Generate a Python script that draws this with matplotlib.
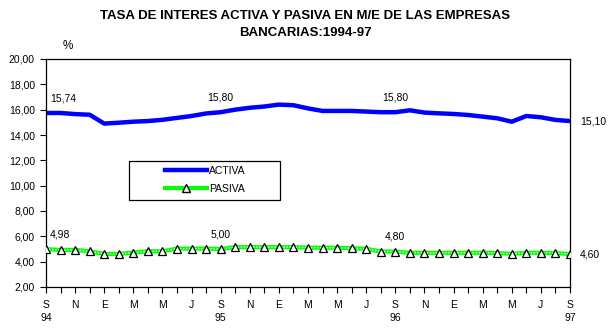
import matplotlib
matplotlib.use("Agg")
import matplotlib.pyplot as plt
from matplotlib.lines import Line2D
from matplotlib.patches import Rectangle
from matplotlib.transforms import blended_transform_factory

# monthly data, Sep 1994 - Sep 1997
months = (["S", "O", "N", "D", "E", "F", "M", "A", "M", "J", "J", "A"] * 4)[:37]
year_labels = {0: "94", 12: "95", 24: "96", 36: "97"}

activa = [15.74, 15.74, 15.65, 15.60, 14.90, 14.97, 15.05, 15.10, 15.20, 15.35,
          15.50, 15.70, 15.80, 16.00, 16.15, 16.25, 16.40, 16.35, 16.10, 15.90,
          15.90, 15.90, 15.85, 15.80, 15.80, 15.95, 15.77, 15.71, 15.66, 15.58,
          15.45, 15.32, 15.05, 15.50, 15.40, 15.19, 15.10]
pasiva = [4.98, 4.93, 4.93, 4.82, 4.61, 4.61, 4.72, 4.82, 4.82, 5.03,
          5.03, 5.03, 5.00, 5.15, 5.15, 5.15, 5.15, 5.15, 5.10, 5.10,
          5.10, 5.06, 5.01, 4.80, 4.80, 4.70, 4.70, 4.70, 4.70, 4.70,
          4.70, 4.68, 4.62, 4.70, 4.70, 4.68, 4.60]
label_idx = [0, 12, 24]

plt.rcParams["font.family"] = ["Liberation Sans", "DejaVu Sans"]

fig = plt.figure(figsize=(6.10, 3.33), dpi=100)
ax = fig.add_axes([46 / 610, 1 - 287 / 333, 524 / 610, 228 / 333])

x = list(range(len(activa)))
ax.plot(x, activa, color="#0000ff", lw=3.2, solid_capstyle="butt")
ax.plot(x, pasiva, color="#00ff00", lw=3.0, zorder=3)
ax.plot(x, pasiva, color="white", lw=1.0, ls=(0, (1, 1.2)), zorder=4)
ax.plot(x, pasiva, ls="none", marker="^", ms=6, mfc="white", mec="black",
        mew=0.9, zorder=5)

fmt = lambda v: f"{v:.2f}".replace(".", ",")
for i in label_idx:
    off = (3, 7) if i == 0 else (0, 7)
    ha = "left" if i == 0 else "center"
    ax.annotate(fmt(activa[i]), (i, activa[i]), xytext=off, textcoords="offset points",
                ha=ha, va="bottom", fontsize=7.5)
    ax.annotate(fmt(pasiva[i]), (i, pasiva[i]), xytext=off, textcoords="offset points",
                ha=ha, va="bottom", fontsize=7.5)
ax.annotate(fmt(activa[-1]), (36, activa[-1]), xytext=(7, 0), textcoords="offset points",
            ha="left", va="center", fontsize=7.5)
ax.annotate(fmt(pasiva[-1]), (36, pasiva[-1]), xytext=(7, 0), textcoords="offset points",
            ha="left", va="center", fontsize=7.5)

ax.set_xlim(0, 36)
ax.set_ylim(2, 20)
ax.set_yticks(range(2, 21, 2))
ax.set_yticklabels([fmt(v) for v in range(2, 21, 2)], fontsize=7.5)
ax.set_xticks(x, minor=True)
major = list(range(0, 37, 2))
ax.set_xticks(major)
ax.set_xticklabels([months[i] for i in major], fontsize=7.5)
ax.tick_params(axis="x", which="both", direction="out", length=4, width=0.8, pad=5)
ax.tick_params(axis="y", direction="out", length=4, width=0.8, pad=4)
for s in ax.spines.values():
    s.set_linewidth(0.9)

# year row under the month letters
trans = blended_transform_factory(ax.transData, fig.transFigure)
for i, yr in year_labels.items():
    ax.text(i, 1 - 318 / 333, yr, transform=trans, ha="center", va="center",
            fontsize=7.5, clip_on=False)

fig.text(68 / 610, 1 - 46 / 333, "%", fontsize=8.5, ha="center", va="center")
fig.text(305 / 610, 1 - 16 / 333, "TASA DE INTERES ACTIVA Y PASIVA EN M/E DE LAS EMPRESAS",
         ha="center", va="center", fontsize=9.5, fontweight="bold")
fig.text(305 / 610, 1 - 33 / 333, "BANCARIAS:1994-97",
         ha="center", va="center", fontsize=9.5, fontweight="bold")

# legend box
fig.patches.append(Rectangle((129 / 610, 1 - 200 / 333), 151 / 610, 39 / 333,
                             transform=fig.transFigure, fill=False, ec="black", lw=0.9))
h_act = Line2D([], [], color="#0000ff", lw=3.2)
h_pas = Line2D([], [], color="#00ff00", lw=3.0, marker="^", ms=6, mfc="white", mec="black")
leg = fig.legend([h_act, h_pas], ["ACTIVA", "PASIVA"], loc="upper left",
                 bbox_to_anchor=(165 / 610, 1 - 166 / 333),
                 fontsize=7.5, frameon=False, borderpad=0, handlelength=4.0,
                 handletextpad=0.2, labelspacing=0.75, borderaxespad=0)

fig.savefig("out.png", dpi=100)
